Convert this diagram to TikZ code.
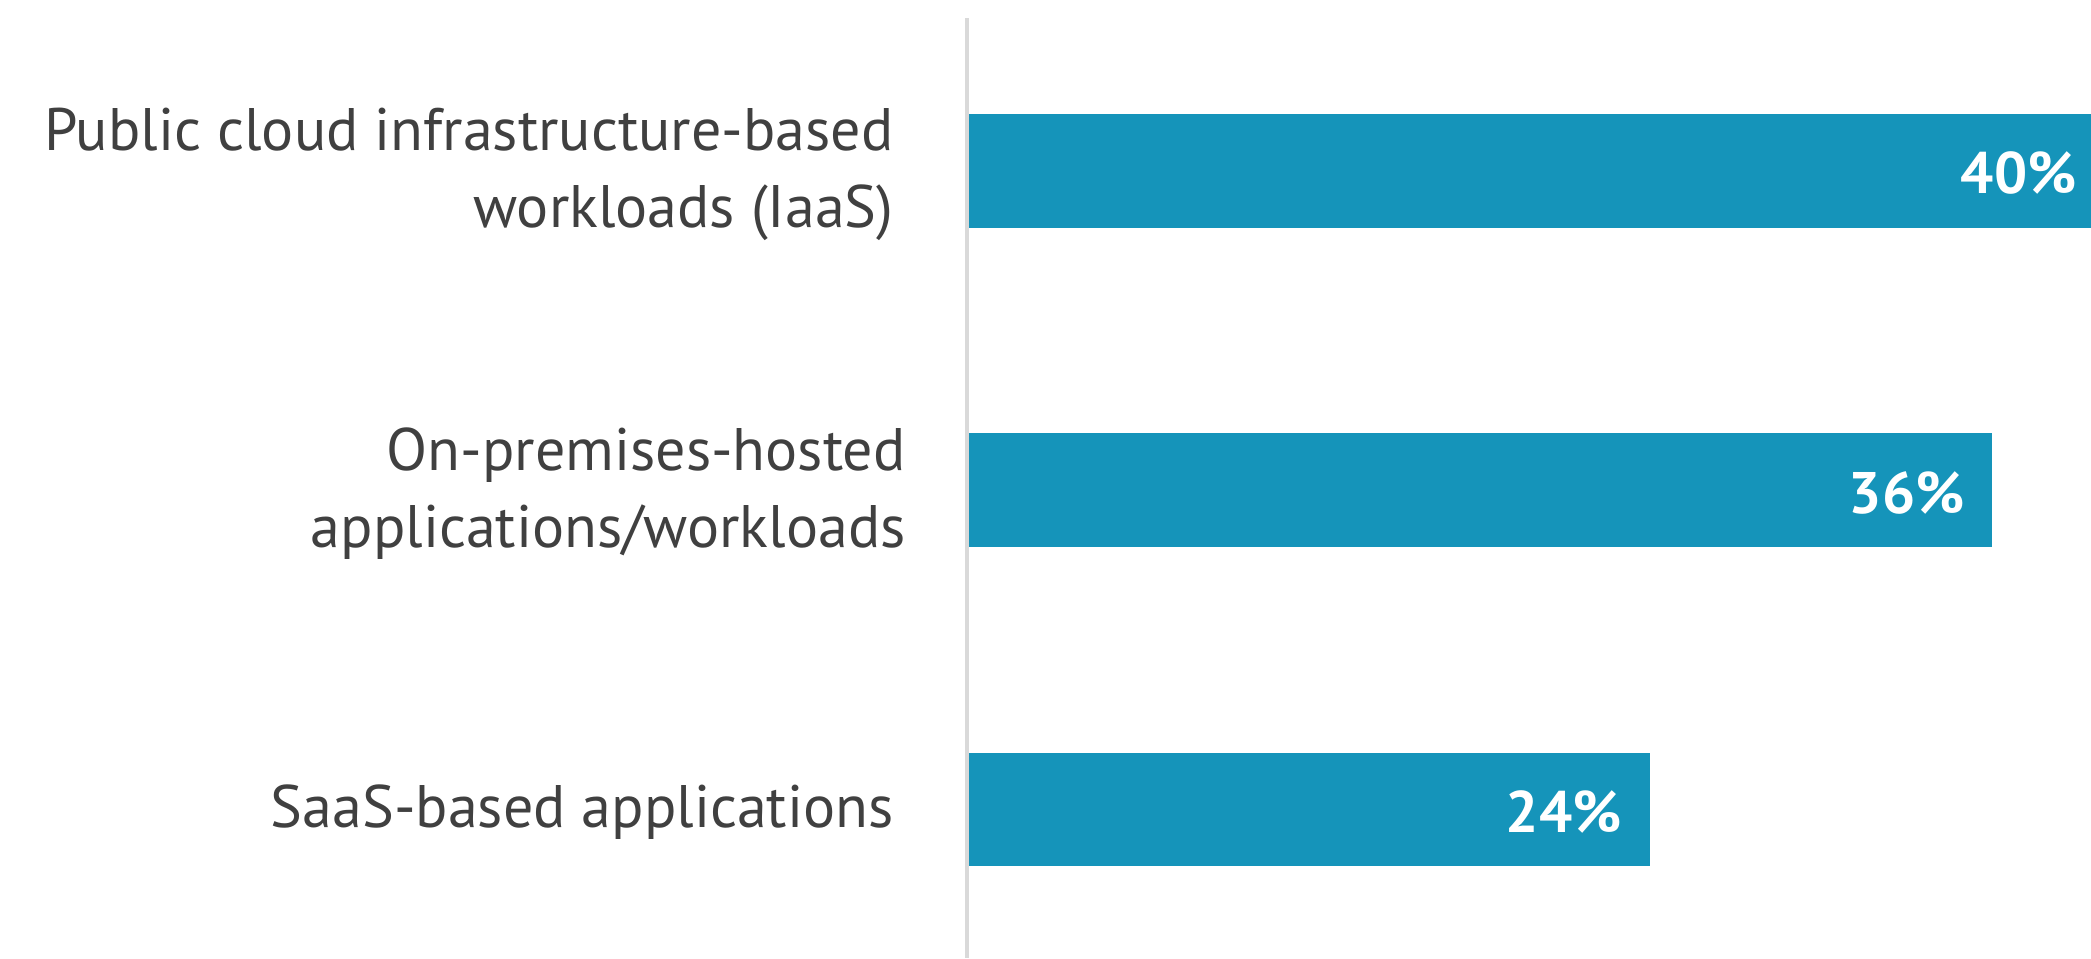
\documentclass[tikz,border=0pt]{standalone}
\usepackage{fontspec}
\setmainfont{PT Sans}
\definecolor{barblue}{RGB}{21,148,186}
\definecolor{labelgray}{RGB}{64,64,64}
\definecolor{axisgray}{RGB}{217,217,217}
\begin{document}
\begin{tikzpicture}[x=0.5pt,y=-0.5pt,
  bar/.style={fill=barblue},
  catlabel/.style={text=labelgray, align=right, inner sep=0pt, anchor=base east,
    font=\fontsize{30}{38.5}\selectfont},
  pct/.style={text=white, inner sep=0pt, anchor=base east,
    font=\bfseries\fontsize{29.3}{35}\selectfont}]
\useasboundingbox (0,0) rectangle (2091,958);
% bars
\fill[bar] (969,114) rectangle (2091,228);
\fill[bar] (969,433) rectangle (1992,547);
\fill[bar] (969,753) rectangle (1650,866);
% vertical axis
\coordinate (axtop) at (967,18);
\coordinate (axbot) at (967,958);
\draw[axisgray, line width=2pt] (axtop) -- (axbot);
% value labels
\node[pct] (v1) at (2077,193) {40\%};
\node[pct] (v2) at (1965,513) {36\%};
\node[pct] (v3) at (1622,832) {24\%};
% category labels (base anchor sits on the last line)
\node[catlabel] (c1) at (894,227) {Public cloud infrastructure-based\\workloads (IaaS)};
\node[catlabel] (c2) at (906,547) {On-premises-hosted\\applications/workloads};
\node[catlabel] (c3) at (894,827) {SaaS-based applications};
\end{tikzpicture}
\end{document}
